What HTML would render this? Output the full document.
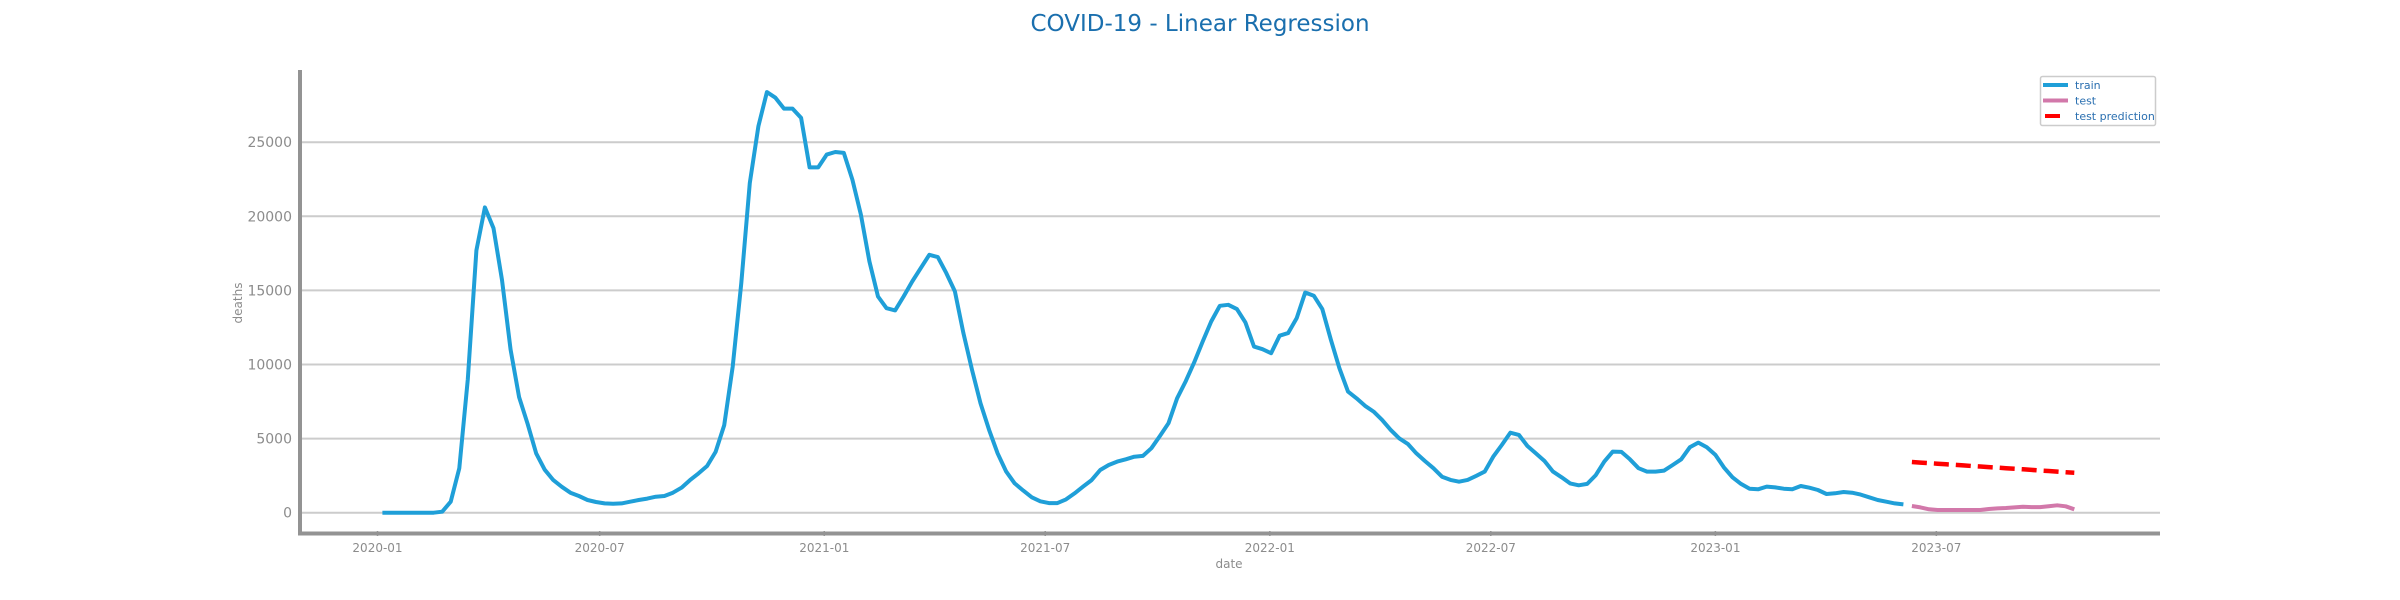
<!DOCTYPE html>
<html><head><meta charset="utf-8"><style>
html,body{margin:0;padding:0;background:#fff;}
svg{display:block;font-family:"DejaVu Sans","Liberation Sans",sans-serif;}
</style></head><body>
<svg id="chart" width="2400" height="600" viewBox="0 0 2400 600">
<text x="1200" y="31" text-anchor="middle" font-size="23" fill="#1a6fae">COVID-19 - Linear Regression</text>
<g id="grid"></g>
<g id="yticks"></g>
<g id="xticks"></g>
<g id="series"></g>
<line x1="300" y1="70" x2="300" y2="535" stroke="#939393" stroke-width="4"/>
<line x1="298" y1="533.5" x2="2160" y2="533.5" stroke="#939393" stroke-width="4"/>
<text x="1229" y="568" text-anchor="middle" font-size="12" fill="#8c8c8c">date</text>
<text transform="translate(242,303) rotate(-90)" text-anchor="middle" font-size="12" fill="#8c8c8c">deaths</text>
<g>
<rect x="2040.5" y="76.5" width="115" height="49" rx="2" fill="#fff" stroke="#cccccc" stroke-width="1.5"/>
<g><line x1="2043" y1="85" x2="2068" y2="85" stroke="#1f9fd8" stroke-width="4"/><text x="2075" y="89" font-size="11" fill="#2a6fb0">train</text></g>
<g><line x1="2043" y1="100.5" x2="2068" y2="100.5" stroke="#d278aa" stroke-width="4"/><text x="2075" y="104.5" font-size="11" fill="#2a6fb0">test</text></g>
<g><line x1="2045" y1="116" x2="2060" y2="116" stroke="#ff0000" stroke-width="4"/><text x="2075" y="120" font-size="11" fill="#2a6fb0">test prediction</text></g>
</g>
</svg>
<script>
const trainValues=[0,0,0,0,0,0,0,70,740,3000,9000,17700,20600,19200,15700,11000,7800,6000,4000,2900,2200,1750,1350,1130,860,720,630,610,630,740,860,950,1080,1130,1350,1690,2200,2650,3150,4100,5900,9860,15500,22250,26080,28380,28000,27270,27270,26640,23300,23300,24160,24340,24280,22470,20110,16960,14590,13800,13650,14590,15600,16500,17400,17250,16170,14930,12120,9640,7390,5590,4010,2770,1980,1490,1040,770,650,650,900,1300,1760,2200,2880,3220,3450,3600,3780,3830,4350,5180,6040,7720,8850,10130,11550,12900,13960,14030,13740,12840,11210,11030,10760,11940,12120,13130,14860,14640,13740,11670,9750,8170,7720,7210,6820,6260,5590,5020,4640,4010,3490,3000,2430,2210,2090,2210,2480,2770,3780,4570,5400,5250,4500,4000,3490,2770,2390,1980,1850,1940,2540,3450,4120,4100,3600,3000,2770,2770,2840,3220,3600,4410,4730,4410,3900,3060,2390,1940,1620,1580,1760,1710,1620,1580,1800,1690,1530,1260,1310,1400,1350,1220,1040,860,740,630,560];
const testValues=[450,360,230,180,180,180,180,180,180,250,290,320,360,400,380,380,430,500,430,230];
const predValues=[3420,3382,3344,3306,3268,3230,3192,3154,3116,3078,3040,3002,2964,2926,2888,2850,2812,2774,2736,2700];
const yTicks=[0,5000,10000,15000,20000,25000];
const xTickLabels=["2020-01","2020-07","2021-01","2021-07","2022-01","2022-07","2023-01","2023-07"];
const startDate="2020-01-05";

const NS="http://www.w3.org/2000/svg";
const DAY=86400000, T0=Date.UTC(2020,0,1);
function xOfDate(ms){return 377.5+(ms-T0)/DAY*1.2207;}
function xOfIndex(i){return xOfDate(Date.parse(startDate)+i*7*DAY);}
function yOf(v){return 512.7-v/5000*74.1;}
function mk(tag,attrs,parent){const e=document.createElementNS(NS,tag);for(const k in attrs)e.setAttribute(k,attrs[k]);parent.appendChild(e);return e;}

const grid=document.getElementById('grid'),yt=document.getElementById('yticks'),xt=document.getElementById('xticks'),ser=document.getElementById('series');
yTicks.forEach(v=>{
  const l=mk('line',{x1:300,x2:2160,y1:yOf(v),y2:yOf(v),stroke:'#cccccc','stroke-width':2},grid);
  
  
  const t=mk('text',{x:292,y:yOf(v)+5,'text-anchor':'end','font-size':14,fill:'#8c8c8c'},yt);
  t.textContent=String(v);
  
  
});
xTickLabels.forEach(s=>{
  const p=s.split('-');const x=xOfDate(Date.UTC(+p[0],+p[1]-1,1));
  const m=mk('line',{x1:x,x2:x,y1:531,y2:536,stroke:'#939393','stroke-width':1.5},xt);
  
  
  const t=mk('text',{x:x,y:552,'text-anchor':'middle','font-size':12,fill:'#8c8c8c'},xt);
  t.textContent=s;
  
  
});
function pts(vals,off){return vals.map((v,i)=>xOfIndex(i+off).toFixed(1)+','+yOf(v).toFixed(1)).join(' ');}
const tr=mk('polyline',{points:pts(trainValues,0),fill:'none',stroke:'#1f9fd8','stroke-width':4,'stroke-linejoin':'round'},ser);


const off=trainValues.length;
const te=mk('polyline',{points:pts(testValues,off),fill:'none',stroke:'#d278aa','stroke-width':4,'stroke-linejoin':'round'},ser);


const pr=mk('polyline',{points:pts(predValues,off),fill:'none',stroke:'#ff0000','stroke-width':4.5,'stroke-dasharray':'15,7'},ser);


</script>
</body></html>
